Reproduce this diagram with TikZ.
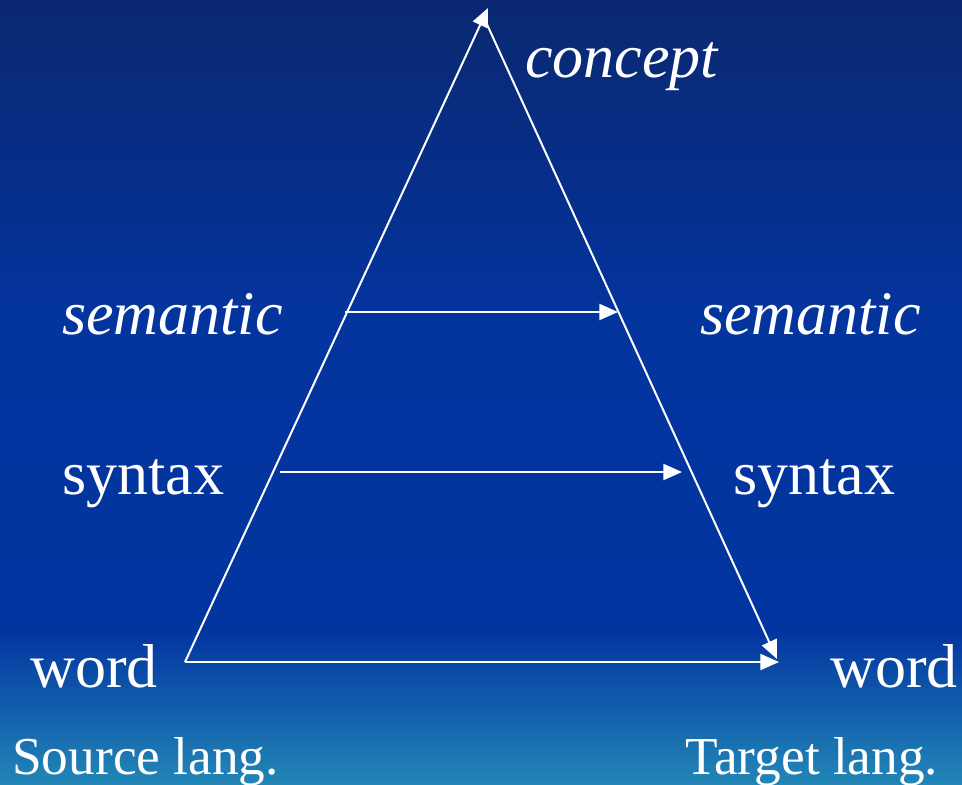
\documentclass[tikz,border=0pt]{standalone}
\usepackage{fontspec}
\setmainfont{Liberation Serif}
\usetikzlibrary{arrows.meta}
\definecolor{bgtop}{RGB}{10,40,112}
\definecolor{bgmid}{RGB}{4,52,158}
\definecolor{bglow}{RGB}{3,53,160}
\definecolor{bgbot}{RGB}{34,134,182}
\tikzset{
  px/.style={x=0.75pt,y=-0.75pt},
  lbl/.style={text=white,inner sep=0pt,anchor=base west,font=\fontsize{46.5pt}{50pt}\selectfont},
  lang/.style={text=white,inner sep=0pt,anchor=base west,font=\fontsize{40pt}{44pt}\selectfont},
  conn/.style={draw=white,line width=1.5pt,-{Triangle[length=14pt,width=12pt]}},
  side/.style={draw=white,line width=1.5pt}
}
\begin{document}
\begin{tikzpicture}[px]
\shade[top color=bgtop,bottom color=bglow,middle color=bgmid] (0,0) rectangle (962,630);
\shade[top color=bglow,bottom color=bgbot] (0,630) rectangle (962,784);
\useasboundingbox (0,0) rectangle (962,784);
% coordinates
\coordinate (apex) at (488,8);
\coordinate (apexr) at (485,20);
\coordinate (bl) at (185,662);
\coordinate (brd) at (777,659);
\coordinate (brh) at (779,662);
\coordinate (semL) at (345,312);
\coordinate (semR) at (618,312);
\coordinate (synL) at (280,472);
\coordinate (synR) at (682,472);
% labels
\node[lbl,font=\fontsize{46.5pt}{50pt}\selectfont\itshape] (concept) at (525,78) {concept};
\node[lbl,font=\fontsize{46.5pt}{50pt}\selectfont\itshape] (semsrc) at (62,334) {semantic};
\node[lbl,font=\fontsize{46.5pt}{50pt}\selectfont\itshape] (semtgt) at (700,334) {semantic};
\node[lbl] (synsrc) at (62,494) {syntax};
\node[lbl] (syntgt) at (733,494) {syntax};
\node[lbl] (wordsrc) at (30,687) {word};
\node[lbl] (wordtgt) at (830,687) {word};
\node[lang] (srclang) at (12,774) {Source lang.};
\node[lang] (tgtlang) at (685,774) {Target lang.};
% pyramid
\draw[conn] (bl) -- (apex);
\draw[conn] (apexr) -- (brd);
\draw[conn] (bl) -- (brh);
\draw[conn] (semL) -- (semR);
\draw[conn] (synL) -- (synR);
\end{tikzpicture}
\end{document}
